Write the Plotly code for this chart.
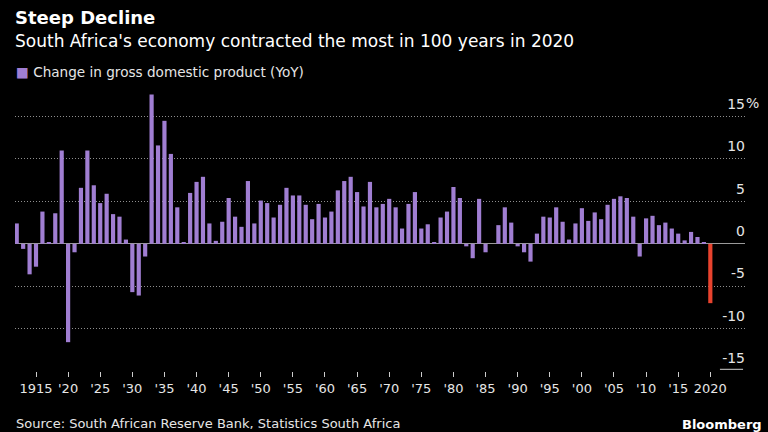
import plotly.graph_objects as go

years = list(range(1912, 2021))
gdp_change = [
    2.4, -0.6, -3.6, -2.7, 3.8, 0.1, 3.6, 11.0, -11.6, -1.0,   # 1912-1921
    6.6, 11.0, 6.9, 4.8, 5.9, 3.5, 3.2, 0.5, -5.7, -6.1,       # 1922-1931
    -1.5, 17.6, 11.6, 14.5, 10.6, 4.3, 0.1, 6.0, 7.3, 7.9,     # 1932-1941
    2.4, 0.35, 2.6, 5.4, 3.2, 2.0, 7.4, 2.4, 5.1, 4.8,         # 1942-1951
    3.1, 4.6, 6.6, 5.7, 5.7, 4.6, 2.9, 4.7, 3.1, 3.8,          # 1952-1961
    6.3, 7.4, 7.9, 6.1, 4.4, 7.3, 4.3, 4.7, 5.3, 4.3,          # 1962-1971
    1.8, 4.7, 6.1, 1.8, 2.3, 0.1, 3.1, 3.8, 6.7, 5.4,          # 1972-1981
    -0.3, -1.7, 5.3, -1.0, 0.0, 2.2, 4.3, 2.5, -0.3, -1.0,     # 1982-1991
    -2.1, 1.2, 3.2, 3.1, 4.3, 2.6, 0.5, 2.4, 4.2, 2.7,         # 1992-2001
    3.7, 2.9, 4.6, 5.3, 5.6, 5.4, 3.2, -1.5, 3.0, 3.3,         # 2002-2011
    2.2, 2.5, 1.8, 1.2, 0.4, 1.4, 0.8, 0.2, -7.0               # 2012-2020
]

tick_years = list(range(1915, 2021, 5))
tick_labels = ["1915"] + ["'" + str(y)[2:] for y in tick_years[1:-1]] + ["2020"]

y_ticks = [-15, -10, -5, 0, 5, 10, 15]
y_labels = ["-15", "-10", "-5", "0", "5", "10", "15"]

PURPLE = "#a07ed2"
RED = "#e8432e"
colors = [RED if y == 2020 else PURPLE for y in years]

fig = go.Figure()
fig.add_trace(go.Bar(x=years, y=gdp_change, marker=dict(color=colors, line=dict(width=0)),
                     showlegend=False))

FONT = "DejaVu Sans"
fig.update_layout(
    width=768, height=432,
    paper_bgcolor="black", plot_bgcolor="black",
    margin=dict(l=15, r=23, t=92, b=61),
    bargap=0.35,
    font=dict(family=FONT, color="#e6e6e6", size=13),
    xaxis=dict(
        range=[1911.73, 2025.4],
        tickvals=tick_years, ticktext=tick_labels,
        ticks="outside", ticklen=5, tickcolor="#cccccc", tickwidth=1,
        showgrid=False, zeroline=False, showline=False,
        tickfont=dict(size=13, color="#e6e6e6"),
    ),
    yaxis=dict(
        range=[-15, 17.9],
        side="right",
        tickvals=y_ticks, ticktext=y_labels,
        ticklabelposition="inside top",
        ticklabelstandoff=-3,
        ticklabelshift=-3,
        tickfont=dict(size=14, color="#e6e6e6"),
        showgrid=True, gridcolor="#8f8f8f", griddash="1px,2px", gridwidth=1,
        zeroline=True, zerolinecolor="#9a9a9a", zerolinewidth=1,
        showline=False, ticks="",
    ),
)

# short solid rule under the bottom (-15) label, as in the reference
fig.add_shape(type="line", xref="x", yref="y", x0=2021.5, x1=2025.1, y0=-14.8, y1=-14.8,
              line=dict(color="#d0d0d0", width=1))

def py(p):
    return (371 - p) / 279.0

def px(p):
    return (p - 15) / 730.0

anns = [
    dict(text="<b>Steep Decline</b>", x=px(13), y=py(17), size=18, color="#ffffff"),
    dict(text="South Africa's economy contracted the most in 100 years in 2020", x=px(13), y=py(41), size=17, color="#ffffff"),
    dict(text="<span style='color:%s'>■</span> Change in gross domestic product (YoY)" % PURPLE, x=px(14), y=py(72), size=13.6, color="#e6e6e6"),
    dict(text="Source: South African Reserve Bank, Statistics South Africa", x=px(14), y=py(423), size=13, color="#e6e6e6"),
    dict(text="<b>Bloomberg</b>", x=px(680), y=py(424), size=13, color="#ffffff"),
    dict(text="%", x=px(744), y=py(103), size=14, color="#e6e6e6"),
]
for a in anns:
    fig.add_annotation(text=a["text"], x=a["x"], y=a["y"], xref="paper", yref="paper",
                       xanchor="left", yanchor="middle", showarrow=False,
                       font=dict(size=a["size"], color=a["color"], family=FONT))

fig.write_html("out.html")
